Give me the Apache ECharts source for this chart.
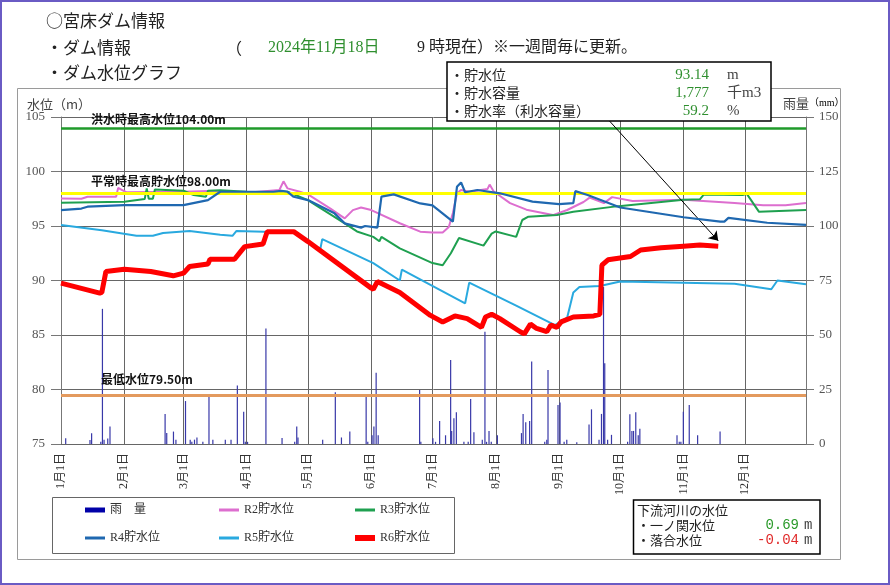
<!DOCTYPE html>
<html><head><meta charset="utf-8">
<script src="https://cdn.jsdelivr.net/npm/echarts@6/dist/echarts.min.js"></script>
<style>html,body{margin:0;padding:0;background:#fff}#c{width:890px;height:585px}</style>
</head><body><div id="c"></div>
<script>
// ---- axis / tick data ----
const monthStartDays = [0,31,60,91,121,152,182,213,244,274,305,335];
const monthLabels = ['1月1日','2月1日','3月1日','4月1日','5月1日','6月1日','7月1日','8月1日','9月1日','10月1日','11月1日','12月1日'];
const dayCount = 366;
const levelMin = 75, levelMax = 105, levelStep = 5;
const rainMin = 0, rainMax = 150, rainStep = 25;

// ---- reference levels ----
const floodLevel = 104.00;
const normalLevel = 98.00;
const lowLevel = 79.50;

// ---- info values ----
const infoDate = '2024年11月18日';
const storageLevel = '93.14';
const storageVolume = '1,777';
const storageRate = '59.2';
const ichinosekiLevel = '0.69';
const ochiaiLevel = '-0.04';

// ---- series: [dayOfYear, value] ----
const r2 = [[0,97.53],[10,97.5],[13,97.68],[27,97.68],[28,98.5],[30,98.3],[32,98.1],[60,98.14],[72,98.2],[91,98.05],[107,98.3],[109,99.1],[111,98.45],[117,98.14],[121,97.9],[132,96.6],[139,95.7],[143,96.46],[147,96.7],[152,96.46],[166,95.25],[176,94.48],[182,94.4],[187,94.4],[190,94.9],[192,96.2],[194,98.0],[196,98.3],[200,98.15],[209,98.4],[210,98.8],[212,98.16],[220,97.1],[228,96.5],[241,96.0],[248,96.47],[256,97.2],[259,97.6],[266,97.1],[270,97.65],[280,97.3],[305,97.4],[330,97.1],[344,96.9],[355,96.9],[365,97.1]];
const r3 = [[0,97.13],[31,97.23],[41,97.47],[42,98.45],[43,97.5],[45,97.5],[46,98.35],[60,98.23],[65,97.84],[71,97.68],[72,98.23],[78,98.29],[91,98.14],[104,98.0],[108,98.2],[111,98.14],[121,97.38],[125,96.9],[139,95.24],[145,94.5],[153,94.0],[156,93.6],[157,94.0],[166,92.94],[182,91.6],[187,91.4],[191,92.5],[195,93.9],[207,93.2],[211,94.3],[213,94.5],[223,94.0],[226,95.55],[229,95.85],[243,96.0],[251,96.3],[272,96.8],[305,97.4],[313,97.45],[315,97.9],[334,97.85],[336,97.95],[342,96.3],[365,96.47]];
const r4 = [[0,96.45],[10,96.6],[13,96.77],[31,96.92],[60,96.92],[72,97.38],[78,98.14],[104,98.14],[108,98.23],[111,98.14],[114,97.68],[121,97.38],[134,96.16],[139,95.24],[147,94.85],[149,95.0],[155,94.85],[157,97.7],[163,97.9],[176,97.07],[182,96.9],[192,95.4],[194,98.6],[196,99.0],[198,98.1],[204,98.3],[215,98.0],[231,97.24],[244,97.0],[251,97.1],[252,98.2],[258,97.85],[274,96.7],[305,95.8],[323,95.4],[325,95.4],[327,95.75],[346,95.3],[365,95.1]];
const r5 = [[0,95.1],[20,94.6],[37,94.1],[45,94.1],[50,94.35],[63,94.55],[78,94.2],[84,94.1],[86,94.55],[104,94.45],[114,94.45],[121,93.57],[127,92.85],[128,93.8],[153,91.6],[166,90.0],[167,91.0],[198,87.9],[200,89.8],[223,87.7],[242,85.9],[248,86.6],[251,88.9],[254,89.4],[264,89.5],[274,89.9],[305,89.8],[330,89.7],[348,89.2],[351,90.0],[365,89.65]];
const r6 = [[0,89.76],[19,88.84],[20,88.9],[22,90.82],[31,91.04],[44,90.82],[55,90.43],[60,90.67],[63,91.28],[72,91.52],[73,91.95],[85,91.95],[88,92.65],[90,93.11],[99,93.35],[101,94.48],[114,94.48],[121,93.57],[152,89.3],[153,89.2],[155,89.9],[166,88.9],[181,86.8],[187,86.2],[193,86.75],[199,86.5],[206,85.7],[208,86.65],[211,86.9],[215,86.5],[225,85.3],[227,85.1],[230,86.0],[233,85.6],[238,85.3],[240,85.9],[243,85.7],[245,86.2],[251,86.65],[261,86.75],[264,86.9],[265,91.4],[268,91.9],[279,92.2],[284,92.8],[294,93.0],[305,93.15],[313,93.25],[322,93.14]];
const rain = [[2.3,2.6],[14.2,1.8],[15,4.9],[19.5,1],[20.3,62],[21.1,2],[22.9,2.5],[24,8],[51,13.8],[51.8,5],[55.1,5.7],[56.3,2],[61,19.7],[63.3,2],[64.1,1],[65.4,2],[66.6,3],[69.5,1],[72.5,22],[74.4,2],[80.5,2],[83.3,2],[86.4,26.8],[89.5,14.8],[90.3,1],[91.4,1],[100.4,53],[108.3,2.8],[114.5,1],[115.5,8],[116.1,3],[128.2,2],[134.4,23.7],[137.4,3],[141.5,5.7],[149.5,22],[150.3,1],[152.4,4],[153.3,8],[154.4,32.7],[155.4,4],[175.7,24.8],[176.3,1],
 [182.2,2.6],[183.5,1],[185.5,10.5],[188.4,4],[190.9,38.5],[191.4,6],[192.5,11.8],[193.7,14.6],[197.4,1],[199.5,1],[200.7,20.6],[202.3,5.4],[206.4,2],[207.7,51.5],[208.5,1],[209.7,6],[210.8,1],[213.8,4],[225.6,5],[226.4,13.8],[227.7,10],[229.6,10.5],[230.6,37.8],[237,1],[238,2],[238.6,34],[243.5,17.9],[244.5,19],[246.5,1],[247.8,2],[252.7,0.8],[258.7,9],[259.9,15.9],[263.6,2],[264.8,13.8],[265.8,72],[266.4,37],[267.8,2],[269.7,4.2],[277.6,1],[278.7,13.6],[279.7,6],[280.5,6],[281.6,14.6],[282.8,4],[283.6,7],[301.8,4],[302.9,1],[303.7,1],[304.9,14.8],[307.8,17.9],[311.9,4],[322.9,5.7]];
const arrowStart = [268.4, 104.7];

const categories = [];
for (let i = 0; i < dayCount; i++) {
  const k = monthStartDays.indexOf(i);
  categories.push(k >= 0 ? monthLabels[k] : '');
}
const isMonthStart = (i) => monthStartDays.indexOf(i) >= 0;

const CJK = '"Noto Sans CJK JP"';
const SERIF = '"Liberation Serif", "Noto Sans CJK JP"';
const lastR6 = r6[r6.length - 1];

function lineSeries(name, data, color, width, z) {
  return {name, type:'line', xAxisIndex:1, yAxisIndex:0, data, symbol:'none', z,
    lineStyle:{color, width}, itemStyle:{color}, silent:true};
}
function legend(name, left, top, color, h) {
  return {left, top, padding:0, itemWidth:20, itemHeight:h, selectedMode:false,
    data:[{name, icon:'rect', itemStyle:{color}}],
    textStyle:{fontSize:12, color:'#333', fontFamily:SERIF}};
}
function txt(text, x, y, font, fill, align) {
  return {type:'text', x, y, z:101, style:{text, font, fill, verticalAlign:'middle', align: align || 'left'}};
}

const chart = echarts.init(document.getElementById('c'), null, {renderer:'canvas'});
chart.setOption({
  animation:false,
  backgroundColor:'#fff',
  grid:{left:61, right:84, top:117, bottom:141},
  xAxis:[
    {type:'category', data:categories, boundaryGap:false,
     axisLine:{show:true, lineStyle:{color:'#666'}}, axisTick:{show:false},
     axisLabel:{interval:(i)=>isMonthStart(i), rotate:90, margin:9, fontSize:12, color:'#333', fontFamily:SERIF},
     splitLine:{show:true, interval:(i)=>isMonthStart(i) && i>0, lineStyle:{color:'#666', width:1}}},
    {type:'value', min:0, max:dayCount-1, show:false}
  ],
  yAxis:[
    {type:'value', min:levelMin, max:levelMax, interval:levelStep, position:'left',
     axisLine:{show:true, lineStyle:{color:'#777'}}, axisTick:{show:true, length:10, lineStyle:{color:'#777'}},
     axisLabel:{margin:16, fontSize:13, color:'#555', fontFamily:SERIF},
     splitLine:{show:true, lineStyle:{color:'#666', width:1}}},
    {type:'value', min:rainMin, max:rainMax, interval:rainStep, position:'right',
     axisLine:{show:true, lineStyle:{color:'#777'}}, axisTick:{show:true, length:8, lineStyle:{color:'#777'}},
     axisLabel:{margin:13, fontSize:13, color:'#555', fontFamily:SERIF},
     splitLine:{show:false}}
  ],
  legend:[
    legend('雨　量', 85, 504, '#0000a8', 5),
    legend('R2貯水位', 219, 504, '#dd6ecf', 3),
    legend('R3貯水位', 355, 504, '#1fa050', 3),
    legend('R4貯水位', 85, 532, '#1f68b0', 3),
    legend('R5貯水位', 219, 532, '#29a9df', 3),
    legend('R6貯水位', 355, 532, '#ff0000', 6)
  ],
  series:[
    {name:'雨　量', type:'bar', xAxisIndex:1, yAxisIndex:1, data:rain, barWidth:1.2, z:1, silent:true,
     itemStyle:{color:'#3838a8'}},
    {name:'ref', type:'line', xAxisIndex:1, yAxisIndex:0, data:[], z:1, silent:true,
     markLine:{silent:true, symbol:['none','none'], animation:false,
      data:[
        {yAxis:floodLevel, lineStyle:{color:'#1f9a2a', width:2.5, type:'solid'},
         label:{show:true, position:'insideStartTop', distance:[30,2], formatter:'洪水時最高水位' + floodLevel.toFixed(2) + 'm', color:'#111', fontSize:12, fontWeight:'bold', fontFamily:CJK}},
        {yAxis:normalLevel, lineStyle:{color:'#ffff00', width:3, type:'solid'},
         label:{show:true, position:'insideStartTop', distance:[30,6], formatter:'平常時最高貯水位' + normalLevel.toFixed(2) + 'm', color:'#111', fontSize:12, fontWeight:'bold', fontFamily:CJK}},
        {yAxis:lowLevel, lineStyle:{color:'#e39a5e', width:3, type:'solid'},
         label:{show:true, position:'insideStartTop', distance:[40,10], formatter:'最低水位' + lowLevel.toFixed(2) + 'm', color:'#111', fontSize:12, fontWeight:'bold', fontFamily:CJK}}
      ]}},
    lineSeries('R2貯水位', r2, '#dd6ecf', 2, 3),
    lineSeries('R3貯水位', r3, '#1fa050', 2, 4),
    lineSeries('R5貯水位', r5, '#29a9df', 2, 5),
    lineSeries('R4貯水位', r4, '#1f68b0', 2.2, 6),
    Object.assign(lineSeries('R6貯水位', r6, '#ff0000', 5, 7), {
      markLine:{silent:true, animation:false, symbol:['none','arrow'], symbolSize:9,
        lineStyle:{color:'#000', width:1, type:'solid'}, label:{show:false},
        data:[[{coord:arrowStart}, {coord:[lastR6[0], lastR6[1] + 0.5]}]]}
    })
  ],
  graphic:[
    {type:'rect', z:0, shape:{x:1, y:1, width:888, height:583}, style:{fill:'none', stroke:'#6a5bc4', lineWidth:2}},
    {type:'rect', z:0, shape:{x:17.5, y:88.5, width:823, height:471}, style:{fill:'none', stroke:'#9a9a9a', lineWidth:1}},
    {type:'rect', z:0, shape:{x:52.5, y:497.5, width:402, height:56}, style:{fill:'none', stroke:'#666', lineWidth:1}},
    {type:'rect', z:100, shape:{x:447, y:62, width:324, height:59}, style:{fill:'#fff', stroke:'#000', lineWidth:1.5}},
    {type:'rect', z:100, shape:{x:633.5, y:500, width:186.5, height:54}, style:{fill:'#fff', stroke:'#000', lineWidth:1.5}},
    txt('○宮床ダム情報', 46, 21, '17px ' + CJK, '#222'),
    txt('・ダム情報', 46, 48, '17px ' + CJK, '#222'),
    txt('（', 226, 48, '16px ' + CJK, '#222'),
    txt(infoDate, 268, 48, '16px ' + SERIF, '#2f8f2f'),
    txt('9 時現在）※一週間毎に更新。', 417, 48, '16px ' + SERIF, '#222'),
    txt('・ダム水位グラフ', 46, 73, '17px ' + CJK, '#222'),
    txt('・貯水位', 450, 75, '14px ' + CJK, '#222'),
    txt('・貯水容量', 450, 93, '14px ' + CJK, '#222'),
    txt('・貯水率（利水容量）', 450, 111, '14px ' + CJK, '#222'),
    txt(storageLevel, 709, 75, '15px ' + SERIF, '#2f8f2f', 'right'),
    txt(storageVolume, 709, 93, '15px ' + SERIF, '#2f8f2f', 'right'),
    txt(storageRate, 709, 111, '15px ' + SERIF, '#2f8f2f', 'right'),
    txt('m', 727, 75, '15px ' + SERIF, '#444'),
    txt('千m3', 727, 93, '15px ' + SERIF, '#444'),
    txt('%', 727, 111, '15px ' + SERIF, '#444'),
    txt('水位（m）', 27, 104, '13px ' + CJK, '#444'),
    {type:'text', x:783, y:103, z:101, style:{text:'{a|雨量}{b|（mm）}', verticalAlign:'middle',
      rich:{a:{font:'13px ' + CJK, fill:'#444', fontSize:13, fontFamily:CJK, color:'#444'}, b:{fontSize:10, fontFamily:SERIF, color:'#444'}}}},
    txt('下流河川の水位', 637, 510, '13px ' + CJK, '#222'),
    txt('・一ノ関水位', 637, 525, '13px ' + CJK, '#222'),
    txt('・落合水位', 637, 540, '13px ' + CJK, '#222'),
    txt(ichinosekiLevel, 799, 525, '14px "Liberation Mono"', '#2a9a2a', 'right'),
    txt(ochiaiLevel, 799, 540, '14px "Liberation Mono"', '#e02a2a', 'right'),
    txt('m', 804, 525, '14px "Liberation Mono"', '#444'),
    txt('m', 804, 540, '14px "Liberation Mono"', '#444')
  ]
});
</script>
</body></html>
